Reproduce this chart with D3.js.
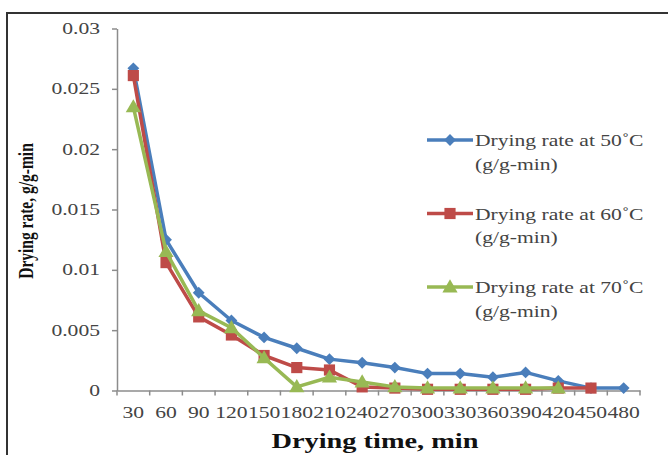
<!DOCTYPE html>
<html lang="en">
<head>
    <meta charset="UTF-8" />
    <title>Drying rate vs drying time</title>
    <script src="https://d3js.org/d3.v7.min.js"></script>
    <style>
        html, body {
            margin: 0;
            padding: 0;
            background: #fff;
            overflow: hidden;
        }
        svg {
            display: block;
            font-family: "Liberation Serif", "Times New Roman", serif;
        }
    </style>
</head>
<body>
    <svg width="668" height="455"></svg>
    <script>
        // drying time categories (min)
        const times = [30, 60, 90, 120, 150, 180, 210, 240, 270, 300, 330, 360, 390, 420, 450, 480];

        // drying rate, g/g-min
        const rate50 = [0.0267, 0.0125, 0.0081, 0.0058, 0.0044, 0.0035, 0.0026, 0.0023, 0.0019, 0.0014, 0.0014, 0.0011, 0.0015, 0.0008, 0.0002, 0.0002];
        const rate60 = [0.0261, 0.0106, 0.0061, 0.0046, 0.0029, 0.0019, 0.0017, 0.0003, 0.0002, 0.0001, 0.0001, 0.0001, 0.0001, 0.0002, 0.0002];
        const rate70 = [0.0235, 0.0115, 0.0066, 0.0052, 0.0027, 0.0003, 0.0011, 0.0007, 0.0003, 0.0002, 0.0002, 0.0002, 0.0002, 0.0002];

        const yTicks = [0, 0.005, 0.01, 0.015, 0.02, 0.025, 0.03];
        const yTickLabels = ["0", "0.005", "0.01", "0.015", "0.02", "0.025", "0.03"];

        const seriesNames = ["Drying rate at 50\u02DAC", "Drying rate at 60\u02DAC", "Drying rate at 70\u02DAC"];
        const seriesUnit = "(g/g-min)";
        const colors = ["#4a7ebb", "#be4b48", "#98b954"];
        const shapes = ["diamond", "square", "triangle"];

        const series = [rate50, rate60, rate70].map((vals, i) => ({
            name: seriesNames[i],
            color: colors[i],
            shape: shapes[i],
            points: vals.map((v, j) => ({ t: times[j], v: v }))
        }));

        const svg = d3.select("svg");
        const stretch = 1.35; // the figure is stretched horizontally

        // outer frame
        svg.append("rect")
            .attr("x", 7).attr("y", 13)
            .attr("width", 700).attr("height", 500)
            .attr("fill", "none")
            .attr("stroke", "#333")
            .attr("stroke-width", 2);

        const x = d3.scaleBand().domain(times).range([117, 640]).padding(0);
        const y = d3.scaleLinear().domain([0, 0.03]).range([390.5, 28.5]);

        // y axis
        const yAxis = svg.append("g")
            .attr("transform", "translate(117,0)")
            .call(d3.axisLeft(y).tickValues(yTicks)
                .tickFormat((d, i) => yTickLabels[i])
                .tickSize(5).tickSizeOuter(0));
        yAxis.select(".domain").attr("stroke", "#8c8c8c").attr("stroke-width", 1.5);
        yAxis.selectAll(".tick line").attr("stroke", "#8c8c8c").attr("stroke-width", 1.5);
        yAxis.selectAll(".tick text")
            .attr("x", -17 / stretch)
            .attr("transform", `scale(${stretch},1)`)
            .attr("fill", "#444")
            .style("font-family", "'Liberation Serif', serif")
            .style("font-size", "16px");

        // x axis: labels at category centres, ticks on category boundaries
        const xAxis = svg.append("g")
            .attr("transform", `translate(0,${y(0)})`)
            .call(d3.axisBottom(x).tickSize(0).tickPadding(16));
        xAxis.select(".domain").attr("stroke", "#8c8c8c").attr("stroke-width", 1.5);
        xAxis.selectAll(".tick text")
            .attr("transform", `scale(${stretch},1)`)
            .attr("fill", "#444")
            .style("font-family", "'Liberation Serif', serif")
            .style("font-size", "16px");
        xAxis.selectAll(".boundary")
            .data(times.map(t => x(t)).concat([x.range()[1]]))
            .join("line")
            .attr("class", "boundary")
            .attr("x1", d => d).attr("x2", d => d)
            .attr("y1", 0).attr("y2", 5)
            .attr("stroke", "#8c8c8c")
            .attr("stroke-width", 1.5);

        // axis titles
        svg.append("g")
            .attr("transform", `translate(375,448) scale(${stretch},1)`)
            .append("text")
            .attr("text-anchor", "middle")
            .attr("font-weight", "bold")
            .attr("font-size", 21)
            .attr("fill", "#111")
            .text("Drying time, min");

        svg.append("g")
            .attr("transform", `translate(33,211) scale(${stretch},1) rotate(-90)`)
            .append("text")
            .attr("text-anchor", "middle")
            .attr("font-weight", "bold")
            .attr("font-size", 15.5)
            .attr("fill", "#111")
            .text("Drying rate, g/g-min");

        function markerPath(shape) {
            if (shape === "diamond") return d3.symbol(d3.symbolSquare, 70)();
            if (shape === "square") return d3.symbol(d3.symbolSquare, 125)();
            return d3.symbol(d3.symbolTriangle, 100)();
        }
        function markerTransform(shape, px, py) {
            if (shape === "diamond") return `translate(${px},${py}) rotate(45)`;
            if (shape === "triangle") return `translate(${px},${py + 1})`;
            return `translate(${px},${py})`;
        }

        const line = d3.line()
            .x(d => x(d.t) + x.bandwidth() / 2)
            .y(d => y(d.v));

        const plot = svg.append("g");
        series.forEach(s => {
            plot.append("path")
                .datum(s.points)
                .attr("d", line)
                .attr("fill", "none")
                .attr("stroke", s.color)
                .attr("stroke-width", 3.5)
                .attr("stroke-linejoin", "round");
            plot.append("g")
                .selectAll("path")
                .data(s.points)
                .join("path")
                .attr("d", markerPath(s.shape))
                .attr("transform", d => markerTransform(s.shape, x(d.t) + x.bandwidth() / 2, y(d.v)))
                .attr("fill", s.color);
        });

        // legend
        const legendY = [140, 213.5, 287];
        const legend = svg.append("g");
        series.forEach((s, i) => {
            const g = legend.append("g").attr("transform", `translate(0,${legendY[i]})`);
            g.append("line")
                .attr("x1", 427).attr("x2", 473)
                .attr("y1", 0).attr("y2", 0)
                .attr("stroke", s.color)
                .attr("stroke-width", 3.5);
            g.append("path")
                .attr("d", markerPath(s.shape))
                .attr("transform", markerTransform(s.shape, 450, 0))
                .attr("fill", s.color);
            const t = g.append("g").attr("transform", `translate(475,0) scale(${stretch},1)`);
            t.append("text")
                .attr("y", 6)
                .attr("font-size", 16)
                .attr("fill", "#444")
                .text(s.name);
            t.append("text")
                .attr("y", 30)
                .attr("font-size", 16)
                .attr("fill", "#444")
                .text(seriesUnit);
        });
    </script>
</body>
</html>
